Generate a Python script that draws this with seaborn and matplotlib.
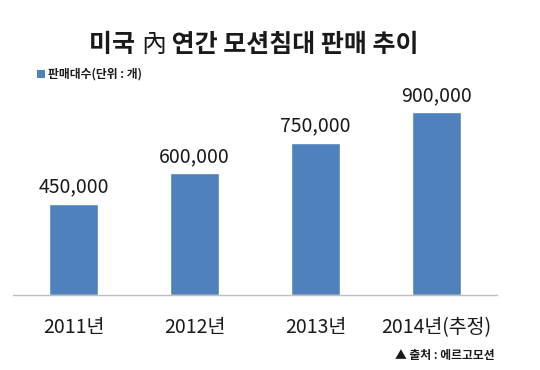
import matplotlib
matplotlib.use("Agg")
import matplotlib.pyplot as plt
import seaborn as sns
import pandas as pd

categories = ["2011년", "2012년", "2013년", "2014년(추정)"]
values = [450000, 600000, 750000, 900000]
value_labels = ["450,000", "600,000", "750,000", "900,000"]
title_parts = ["미국 ", "內", " 연간 모션침대 판매 추이"]
legend_label = "판매대수(단위 : 개)"
source = "▲ 출처 : 에르고모션"

sns.set_theme(style="white")
plt.rcParams['font.family'] = ['Noto Sans CJK KR', 'DejaVu Sans']

df = pd.DataFrame({"year": categories, "value": values})

fig = plt.figure(figsize=(5.4, 3.7), dpi=100)
ax = fig.add_axes([13/540, 1-295/370, 484/540, 203/370])
sns.barplot(data=df, x="year", y="value", color="#4F81BD", width=0.4,
            saturation=1, ax=ax)
ax.set_ylim(0, 1000000)
ax.set_xlim(-0.5, 3.5)
for i, (v, t) in enumerate(zip(values, value_labels)):
    ax.text(i, v + 30000, t, ha="center", va="bottom", fontsize=14, color="#1a1a1a")
ax.set_xlabel("")
ax.set_ylabel("")
ax.set_yticks([])
ax.tick_params(axis="x", length=0, labelsize=14, pad=16, colors="#1a1a1a")
for s in ["top", "right", "left"]:
    ax.spines[s].set_visible(False)
ax.spines["bottom"].set_color("#BFBFBF")
ax.spines["bottom"].set_linewidth(1)

# title in three pieces (內 in regular weight)
fig.canvas.draw()
renderer = fig.canvas.get_renderer()
weights = ["bold", "normal", "bold"]
texts = []
for part, w in zip(title_parts, weights):
    t = fig.text(0, 1-45/370, part, ha="left", va="center", fontsize=18, fontweight=w, color="#1a1a1a")
    texts.append(t)
widths = [t.get_window_extent(renderer).width for t in texts]
total = sum(widths)
x = 254 - total/2
for t, w in zip(texts, widths):
    t.set_x(x/540)
    x += w

fig.patches.append(plt.Rectangle((37/540, 1-78/370), 8/540, 8/370, transform=fig.transFigure,
                                 facecolor="#4F81BD", edgecolor="none"))
fig.text(48/540, 1-74/370, legend_label, ha="left", va="center", fontsize=8.5, fontweight="bold", color="#1a1a1a")
fig.text(495/540, 1-356/370, source, ha="right", va="center", fontsize=8.5, fontweight="bold", color="#1a1a1a")

fig.savefig("out.png", dpi=100, facecolor="white")
